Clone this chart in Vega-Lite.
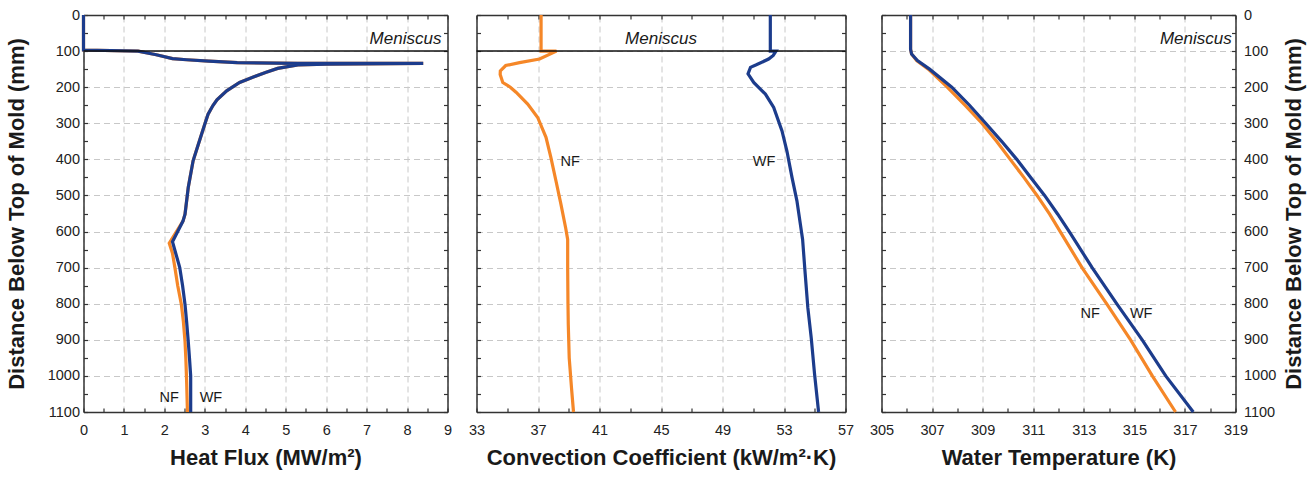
{
  "$schema": "https://vega.github.io/schema/vega-lite/v6.json",
  "background": "white",
  "padding": {"left": 5.5, "top": 7, "right": 5, "bottom": 5},
  "config": {
    "font": "Liberation Sans",
    "view": {"stroke": null},
    "axis": {
      "domainColor": "#333", "domainWidth": 1.5,
      "tickColor": "#333", "tickWidth": 1.2, "tickSize": -4,
      "labelFont": "Liberation Sans", "labelFontSize": 14.5, "labelColor": "#222",
      "labelFlush": false, "labelOverlap": false, "labelBound": false,
      "titleFont": "Liberation Sans", "titleFontSize": 22, "titleFontWeight": "bold", "titleColor": "#1a1a1a",
      "gridColor": "#c8c8c8", "gridDash": [6, 4], "gridWidth": 1,
      "format": "d"
    },
    "axisBottom": {"labelPadding": 15, "titlePadding": 11},
    "axisLeft": {"labelPadding": 8, "titlePadding": 18.5},
    "axisRight": {"labelPadding": 12, "titlePadding": 8}
  },
  "datasets": {
    "hf": [
      {"s": "NF", "v": 0, "d": 0}, {"s": "NF", "v": 0, "d": 97}, {"s": "NF", "v": 1.35, "d": 100}, {"s": "NF", "v": 1.8, "d": 110},
      {"s": "NF", "v": 2.2, "d": 121}, {"s": "NF", "v": 2.55, "d": 124}, {"s": "NF", "v": 3.1, "d": 128}, {"s": "NF", "v": 3.8, "d": 132},
      {"s": "NF", "v": 5.3, "d": 134}, {"s": "NF", "v": 8.4, "d": 134}, {"s": "NF", "v": 6.0, "d": 136}, {"s": "NF", "v": 5.3, "d": 138},
      {"s": "NF", "v": 4.8, "d": 148}, {"s": "NF", "v": 4.5, "d": 159}, {"s": "NF", "v": 4.2, "d": 172}, {"s": "NF", "v": 3.86, "d": 187},
      {"s": "NF", "v": 3.54, "d": 210}, {"s": "NF", "v": 3.3, "d": 235}, {"s": "NF", "v": 3.2, "d": 251}, {"s": "NF", "v": 3.08, "d": 275},
      {"s": "NF", "v": 3.0, "d": 302}, {"s": "NF", "v": 2.84, "d": 358}, {"s": "NF", "v": 2.71, "d": 404}, {"s": "NF", "v": 2.59, "d": 478},
      {"s": "NF", "v": 2.51, "d": 552}, {"s": "NF", "v": 2.46, "d": 571}, {"s": "NF", "v": 2.12, "d": 632}, {"s": "NF", "v": 2.2, "d": 660},
      {"s": "NF", "v": 2.26, "d": 700}, {"s": "NF", "v": 2.33, "d": 750}, {"s": "NF", "v": 2.42, "d": 802}, {"s": "NF", "v": 2.47, "d": 850},
      {"s": "NF", "v": 2.51, "d": 904}, {"s": "NF", "v": 2.53, "d": 950}, {"s": "NF", "v": 2.55, "d": 1015}, {"s": "NF", "v": 2.57, "d": 1100},
      {"s": "WF", "v": 0, "d": 0}, {"s": "WF", "v": 0, "d": 97}, {"s": "WF", "v": 1.35, "d": 100}, {"s": "WF", "v": 1.8, "d": 110},
      {"s": "WF", "v": 2.2, "d": 121}, {"s": "WF", "v": 2.55, "d": 124}, {"s": "WF", "v": 3.1, "d": 128}, {"s": "WF", "v": 3.8, "d": 132},
      {"s": "WF", "v": 5.3, "d": 134}, {"s": "WF", "v": 8.4, "d": 134}, {"s": "WF", "v": 6.0, "d": 136}, {"s": "WF", "v": 5.3, "d": 138},
      {"s": "WF", "v": 4.8, "d": 148}, {"s": "WF", "v": 4.5, "d": 159}, {"s": "WF", "v": 4.2, "d": 172}, {"s": "WF", "v": 3.86, "d": 187},
      {"s": "WF", "v": 3.54, "d": 210}, {"s": "WF", "v": 3.3, "d": 235}, {"s": "WF", "v": 3.2, "d": 251}, {"s": "WF", "v": 3.08, "d": 275},
      {"s": "WF", "v": 3.0, "d": 302}, {"s": "WF", "v": 2.84, "d": 358}, {"s": "WF", "v": 2.71, "d": 404}, {"s": "WF", "v": 2.59, "d": 478},
      {"s": "WF", "v": 2.51, "d": 552}, {"s": "WF", "v": 2.46, "d": 571}, {"s": "WF", "v": 2.2, "d": 628}, {"s": "WF", "v": 2.28, "d": 660},
      {"s": "WF", "v": 2.38, "d": 700}, {"s": "WF", "v": 2.45, "d": 750}, {"s": "WF", "v": 2.51, "d": 802}, {"s": "WF", "v": 2.55, "d": 850},
      {"s": "WF", "v": 2.59, "d": 904}, {"s": "WF", "v": 2.62, "d": 950}, {"s": "WF", "v": 2.65, "d": 1000}, {"s": "WF", "v": 2.65, "d": 1100}
    ],
    "cc": [
      {"s": "NF", "v": 37.2, "d": 0}, {"s": "NF", "v": 37.2, "d": 100}, {"s": "NF", "v": 38.2, "d": 100}, {"s": "NF", "v": 37.1, "d": 122},
      {"s": "NF", "v": 35.8, "d": 132}, {"s": "NF", "v": 34.9, "d": 140}, {"s": "NF", "v": 34.55, "d": 155}, {"s": "NF", "v": 34.54, "d": 165},
      {"s": "NF", "v": 34.71, "d": 187}, {"s": "NF", "v": 35.2, "d": 200}, {"s": "NF", "v": 35.57, "d": 214}, {"s": "NF", "v": 36.33, "d": 247},
      {"s": "NF", "v": 36.98, "d": 284}, {"s": "NF", "v": 37.52, "d": 339}, {"s": "NF", "v": 37.84, "d": 395}, {"s": "NF", "v": 38.17, "d": 460},
      {"s": "NF", "v": 38.49, "d": 524}, {"s": "NF", "v": 38.8, "d": 590}, {"s": "NF", "v": 38.93, "d": 622}, {"s": "NF", "v": 38.93, "d": 700},
      {"s": "NF", "v": 38.95, "d": 800}, {"s": "NF", "v": 38.97, "d": 858}, {"s": "NF", "v": 39.03, "d": 950}, {"s": "NF", "v": 39.18, "d": 1034},
      {"s": "NF", "v": 39.31, "d": 1100},
      {"s": "WF", "v": 52.11, "d": 0}, {"s": "WF", "v": 52.11, "d": 100}, {"s": "WF", "v": 52.48, "d": 100}, {"s": "WF", "v": 52.3, "d": 112},
      {"s": "WF", "v": 52.0, "d": 122}, {"s": "WF", "v": 51.2, "d": 138}, {"s": "WF", "v": 50.82, "d": 145}, {"s": "WF", "v": 50.66, "d": 163},
      {"s": "WF", "v": 51.03, "d": 187}, {"s": "WF", "v": 51.79, "d": 219}, {"s": "WF", "v": 52.33, "d": 256}, {"s": "WF", "v": 52.87, "d": 321},
      {"s": "WF", "v": 53.19, "d": 377}, {"s": "WF", "v": 53.52, "d": 450}, {"s": "WF", "v": 53.84, "d": 515}, {"s": "WF", "v": 54.21, "d": 622},
      {"s": "WF", "v": 54.38, "d": 718}, {"s": "WF", "v": 54.55, "d": 811}, {"s": "WF", "v": 54.77, "d": 894}, {"s": "WF", "v": 54.99, "d": 996},
      {"s": "WF", "v": 55.25, "d": 1100}
    ],
    "wt": [
      {"s": "NF", "v": 306.15, "d": 0}, {"s": "NF", "v": 306.15, "d": 95}, {"s": "NF", "v": 306.19, "d": 108}, {"s": "NF", "v": 306.39, "d": 126},
      {"s": "NF", "v": 306.85, "d": 150}, {"s": "NF", "v": 307.6, "d": 200}, {"s": "NF", "v": 308.3, "d": 250}, {"s": "NF", "v": 308.97, "d": 300},
      {"s": "NF", "v": 309.55, "d": 350}, {"s": "NF", "v": 310.09, "d": 400}, {"s": "NF", "v": 310.63, "d": 450}, {"s": "NF", "v": 311.15, "d": 500},
      {"s": "NF", "v": 311.65, "d": 552}, {"s": "NF", "v": 312.11, "d": 605}, {"s": "NF", "v": 312.93, "d": 700}, {"s": "NF", "v": 313.92, "d": 802},
      {"s": "NF", "v": 314.85, "d": 900}, {"s": "NF", "v": 315.71, "d": 1000}, {"s": "NF", "v": 316.63, "d": 1100},
      {"s": "WF", "v": 306.15, "d": 0}, {"s": "WF", "v": 306.15, "d": 95}, {"s": "WF", "v": 306.19, "d": 108}, {"s": "WF", "v": 306.42, "d": 126},
      {"s": "WF", "v": 306.9, "d": 150}, {"s": "WF", "v": 307.78, "d": 200}, {"s": "WF", "v": 308.48, "d": 250}, {"s": "WF", "v": 309.12, "d": 300},
      {"s": "WF", "v": 309.75, "d": 350}, {"s": "WF", "v": 310.35, "d": 400}, {"s": "WF", "v": 310.9, "d": 450}, {"s": "WF", "v": 311.45, "d": 500},
      {"s": "WF", "v": 311.97, "d": 552}, {"s": "WF", "v": 312.47, "d": 605}, {"s": "WF", "v": 313.33, "d": 700}, {"s": "WF", "v": 314.32, "d": 802},
      {"s": "WF", "v": 315.31, "d": 900}, {"s": "WF", "v": 316.24, "d": 1000}, {"s": "WF", "v": 317.33, "d": 1100}
    ],
    "men": [{"d": 100}],
    "lab1": [{"t": "NF", "v": 2.12, "d": 1062}, {"t": "WF", "v": 3.15, "d": 1062}],
    "lab2": [{"t": "NF", "v": 39.1, "d": 406}, {"t": "WF", "v": 51.7, "d": 406}],
    "lab3": [{"t": "NF", "v": 313.25, "d": 828}, {"t": "WF", "v": 315.27, "d": 828}],
    "mt1": [{"t": "Meniscus", "v": 8.85, "d": 66}],
    "mt2": [{"t": "Meniscus", "v": 45, "d": 66}],
    "mt3": [{"t": "Meniscus", "v": 318.85, "d": 66}]
  },
  "bounds": "full",
  "spacing": 14,
  "hconcat": [
    {
      "bounds": "flush",
      "spacing": 29,
      "hconcat": [
        {
          "width": 364, "height": 397,
          "resolve": {"axis": {"x": "independent", "y": "independent"}},
          "layer": [
            {
              "data": {"name": "hf"},
              "mark": {"type": "line", "strokeWidth": 3.2},
              "encoding": {
                "x": {"field": "v", "type": "quantitative", "scale": {"domain": [0, 9], "nice": false, "zero": false},
                  "axis": {"orient": "bottom", "title": "Heat Flux (MW/m²)", "values": [0, 0.5, 1, 1.5, 2, 2.5, 3, 3.5, 4, 4.5, 5, 5.5, 6, 6.5, 7, 7.5, 8, 8.5, 9],
                    "labelExpr": "datum.value % 1 === 0 ? datum.label : ''", "grid": true,
                    "gridOpacity": {"condition": {"test": "datum.value % 1 === 0", "value": 1}, "value": 0}}},
                "y": {"field": "d", "type": "quantitative", "scale": {"domain": [0, 1100], "reverse": true, "nice": false, "zero": false},
                  "axis": {"orient": "left", "title": "Distance Below Top of Mold (mm)", "values": [0, 50, 100, 150, 200, 250, 300, 350, 400, 450, 500, 550, 600, 650, 700, 750, 800, 850, 900, 950, 1000, 1050, 1100],
                    "labelExpr": "datum.value % 100 === 0 ? datum.label : ''", "grid": true,
                    "gridOpacity": {"condition": {"test": "datum.value % 100 === 0", "value": 1}, "value": 0}}},
                "color": {"field": "s", "type": "nominal", "scale": {"domain": ["NF", "WF"], "range": ["#F58728", "#1C3C8C"]}, "legend": null},
                "order": {"value": null}
              }
            },
            {
              "data": {"name": "men"},
              "mark": {"type": "rule", "color": "#111", "strokeWidth": 1.5},
              "encoding": {
                "y": {"field": "d", "type": "quantitative", "scale": {"domain": [0, 1100], "reverse": true, "nice": false, "zero": false}, "axis": null}
              }
            },
            {
              "data": {"name": "mt1"},
              "mark": {"type": "text", "align": "right", "baseline": "middle", "fontStyle": "italic", "fontSize": 17, "color": "#1a1a1a"},
              "encoding": {
                "x": {"field": "v", "type": "quantitative", "scale": {"domain": [0, 9], "nice": false, "zero": false}, "axis": null},
                "y": {"field": "d", "type": "quantitative", "scale": {"domain": [0, 1100], "reverse": true, "nice": false, "zero": false}, "axis": null},
                "text": {"field": "t"}
              }
            },
            {
              "data": {"name": "lab1"},
              "mark": {"type": "text", "align": "center", "baseline": "middle", "fontSize": 14.5, "color": "#1a1a1a"},
              "encoding": {
                "x": {"field": "v", "type": "quantitative", "scale": {"domain": [0, 9], "nice": false, "zero": false},
                  "axis": {"orient": "top", "title": null, "labels": false, "grid": false, "values": [0, 0.5, 1, 1.5, 2, 2.5, 3, 3.5, 4, 4.5, 5, 5.5, 6, 6.5, 7, 7.5, 8, 8.5, 9]}},
                "y": {"field": "d", "type": "quantitative", "scale": {"domain": [0, 1100], "reverse": true, "nice": false, "zero": false},
                  "axis": {"orient": "right", "title": null, "labels": false, "grid": false, "values": [0, 50, 100, 150, 200, 250, 300, 350, 400, 450, 500, 550, 600, 650, 700, 750, 800, 850, 900, 950, 1000, 1050, 1100]}},
                "text": {"field": "t"}
              }
            }
          ]
        },
        {
          "width": 369, "height": 397,
          "resolve": {"axis": {"x": "independent", "y": "independent"}},
          "layer": [
            {
              "data": {"name": "cc"},
              "mark": {"type": "line", "strokeWidth": 3.2},
              "encoding": {
                "x": {"field": "v", "type": "quantitative", "scale": {"domain": [33, 57], "nice": false, "zero": false},
                  "axis": {"orient": "bottom", "title": "Convection Coefficient (kW/m²·K)", "values": [33, 35, 37, 39, 41, 43, 45, 47, 49, 51, 53, 55, 57],
                    "labelExpr": "(datum.value - 33) % 4 === 0 ? datum.label : ''", "grid": true,
                    "gridOpacity": {"condition": {"test": "(datum.value - 33) % 4 === 0", "value": 1}, "value": 0}}},
                "y": {"field": "d", "type": "quantitative", "scale": {"domain": [0, 1100], "reverse": true, "nice": false, "zero": false},
                  "axis": {"orient": "left", "title": null, "labels": false, "values": [0, 50, 100, 150, 200, 250, 300, 350, 400, 450, 500, 550, 600, 650, 700, 750, 800, 850, 900, 950, 1000, 1050, 1100], "grid": true,
                    "gridOpacity": {"condition": {"test": "datum.value % 100 === 0", "value": 1}, "value": 0}}},
                "color": {"field": "s", "type": "nominal", "scale": {"domain": ["NF", "WF"], "range": ["#F58728", "#1C3C8C"]}, "legend": null},
                "order": {"value": null}
              }
            },
            {
              "data": {"name": "men"},
              "mark": {"type": "rule", "color": "#111", "strokeWidth": 1.5},
              "encoding": {
                "y": {"field": "d", "type": "quantitative", "scale": {"domain": [0, 1100], "reverse": true, "nice": false, "zero": false}, "axis": null}
              }
            },
            {
              "data": {"name": "mt2"},
              "mark": {"type": "text", "align": "center", "baseline": "middle", "fontStyle": "italic", "fontSize": 17, "color": "#1a1a1a"},
              "encoding": {
                "x": {"field": "v", "type": "quantitative", "scale": {"domain": [33, 57], "nice": false, "zero": false}, "axis": null},
                "y": {"field": "d", "type": "quantitative", "scale": {"domain": [0, 1100], "reverse": true, "nice": false, "zero": false}, "axis": null},
                "text": {"field": "t"}
              }
            },
            {
              "data": {"name": "lab2"},
              "mark": {"type": "text", "align": "center", "baseline": "middle", "fontSize": 14.5, "color": "#1a1a1a"},
              "encoding": {
                "x": {"field": "v", "type": "quantitative", "scale": {"domain": [33, 57], "nice": false, "zero": false},
                  "axis": {"orient": "top", "title": null, "labels": false, "grid": false, "values": [33, 35, 37, 39, 41, 43, 45, 47, 49, 51, 53, 55, 57]}},
                "y": {"field": "d", "type": "quantitative", "scale": {"domain": [0, 1100], "reverse": true, "nice": false, "zero": false},
                  "axis": {"orient": "right", "title": null, "labels": false, "grid": false, "values": [0, 50, 100, 150, 200, 250, 300, 350, 400, 450, 500, 550, 600, 650, 700, 750, 800, 850, 900, 950, 1000, 1050, 1100]}},
                "text": {"field": "t"}
              }
            }
          ]
        }
      ]
    },
    {
      "width": 354, "height": 397,
      "resolve": {"axis": {"x": "independent", "y": "independent"}},
      "layer": [
        {
          "data": {"name": "wt"},
          "mark": {"type": "line", "strokeWidth": 3.2},
          "encoding": {
            "x": {"field": "v", "type": "quantitative", "scale": {"domain": [305, 319], "nice": false, "zero": false},
              "axis": {"orient": "bottom", "title": "Water Temperature (K)", "values": [305, 306, 307, 308, 309, 310, 311, 312, 313, 314, 315, 316, 317, 318, 319],
                "labelExpr": "datum.value % 2 === 1 ? datum.label : ''", "grid": true,
                "gridOpacity": {"condition": {"test": "datum.value % 2 === 1", "value": 1}, "value": 0}}},
            "y": {"field": "d", "type": "quantitative", "scale": {"domain": [0, 1100], "reverse": true, "nice": false, "zero": false},
              "axis": {"orient": "right", "title": "Distance Below Top of Mold (mm)", "titleAngle": 270, "titleBaseline": "top", "values": [0, 50, 100, 150, 200, 250, 300, 350, 400, 450, 500, 550, 600, 650, 700, 750, 800, 850, 900, 950, 1000, 1050, 1100],
                "labelExpr": "datum.value % 100 === 0 ? datum.label : ''", "grid": true,
                "gridOpacity": {"condition": {"test": "datum.value % 100 === 0", "value": 1}, "value": 0}}},
            "color": {"field": "s", "type": "nominal", "scale": {"domain": ["NF", "WF"], "range": ["#F58728", "#1C3C8C"]}, "legend": null},
            "order": {"value": null}
          }
        },
        {
          "data": {"name": "mt3"},
          "mark": {"type": "text", "align": "right", "baseline": "middle", "fontStyle": "italic", "fontSize": 17, "color": "#1a1a1a"},
          "encoding": {
            "x": {"field": "v", "type": "quantitative", "scale": {"domain": [305, 319], "nice": false, "zero": false}, "axis": null},
            "y": {"field": "d", "type": "quantitative", "scale": {"domain": [0, 1100], "reverse": true, "nice": false, "zero": false}, "axis": null},
            "text": {"field": "t"}
          }
        },
        {
          "data": {"name": "lab3"},
          "mark": {"type": "text", "align": "center", "baseline": "middle", "fontSize": 14.5, "color": "#1a1a1a"},
          "encoding": {
            "x": {"field": "v", "type": "quantitative", "scale": {"domain": [305, 319], "nice": false, "zero": false},
              "axis": {"orient": "top", "title": null, "labels": false, "grid": false, "values": [305, 306, 307, 308, 309, 310, 311, 312, 313, 314, 315, 316, 317, 318, 319]}},
            "y": {"field": "d", "type": "quantitative", "scale": {"domain": [0, 1100], "reverse": true, "nice": false, "zero": false},
              "axis": {"orient": "left", "title": null, "labels": false, "grid": false, "values": [0, 50, 100, 150, 200, 250, 300, 350, 400, 450, 500, 550, 600, 650, 700, 750, 800, 850, 900, 950, 1000, 1050, 1100]}},
            "text": {"field": "t"}
          }
        }
      ]
    }
  ]
}
